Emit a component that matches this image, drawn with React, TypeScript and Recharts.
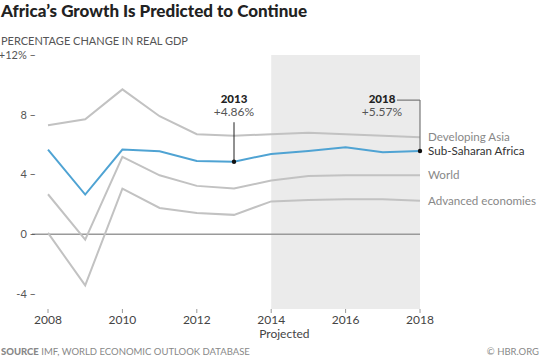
import React from "react";
import {
  LineChart,
  Line,
  XAxis,
  YAxis,
  ReferenceArea,
  ReferenceLine,
  ReferenceDot,
} from "recharts";

const years = [2008, 2009, 2010, 2011, 2012, 2013, 2014, 2015, 2016, 2017, 2018];
const developingAsia = [7.3, 7.7, 9.7, 7.9, 6.7, 6.6, 6.7, 6.8, 6.7, 6.6, 6.5];
const subSaharanAfrica = [5.67, 2.66, 5.67, 5.56, 4.91, 4.86, 5.38, 5.58, 5.83, 5.49, 5.57];
const world = [2.68, -0.36, 5.18, 3.95, 3.24, 3.06, 3.6, 3.9, 3.95, 3.95, 3.95];
const advanced = [0.09, -3.42, 3.06, 1.76, 1.43, 1.3, 2.2, 2.3, 2.35, 2.35, 2.25];
const yTicks = [-4, 0, 4, 8, 12];
const xTicks = [2008, 2010, 2012, 2014, 2016, 2018];

const GRAY = "#c2c2c2";
const BLUE = "#4fa3d3";
const FONT = "Lato, 'Open Sans', sans-serif";

const data = years.map((year, i) => ({
  year,
  asia: developingAsia[i],
  ssa: subSaharanAfrica[i],
  world: world[i],
  adv: advanced[i],
}));

const endLabel = (name: string, color: string) => (props: any) => {
  const { x, y, index } = props;
  if (index !== years.length - 1) return null;
  return (
    <text x={x + 8} y={y} dy="0.35em" fontSize={11.6} fill={color} fontFamily={FONT}>
      {name}
    </text>
  );
};

const YTick = (props: any) => {
  const { x, y, payload } = props;
  const label = payload.value === 12 ? "+12%" : String(payload.value);
  return (
    <text x={x + 4} y={y} dy="0.35em" textAnchor="end" fontSize={11} fill="#555" fontFamily={FONT}>
      {label} –
    </text>
  );
};

const XTick = (props: any) => {
  const { x, y, payload } = props;
  return (
    <g>
      <text x={x} y={y} dy="0.71em" textAnchor="middle" fontSize={12} fill="#444" fontFamily={FONT}>
        {payload.value}
      </text>
      {payload.value === 2014 && (
        <text x={x - 12} y={y + 14} dy="0.71em" textAnchor="start" fontSize={12} fill="#444" fontFamily={FONT}>
          Projected
        </text>
      )}
    </g>
  );
};

const Callout = (label: string, value: string, dx: number) => (props: any) => {
  const { cx, cy } = props;
  return (
    <g fontFamily={FONT} textAnchor="middle">
      <text x={cx + dx} y={cy} fontSize={11.5} fontWeight={900} fill="#222">
        {label}
      </text>
      <text x={cx + dx} y={cy + 13} fontSize={12} fill="#555">
        {value}
      </text>
    </g>
  );
};

export default function App() {
  return (
    <div style={{ position: "absolute", left: 0, top: 0, width: 540, height: 362, background: "#fff" }}>
      <div
        style={{
          position: "absolute",
          left: 1,
          top: 0,
          fontFamily: FONT,
          fontWeight: 900,
          fontSize: 17,
          color: "#222",
          whiteSpace: "nowrap",
        }}
      >
        Africa’s Growth Is Predicted to Continue
      </div>
      <div
        style={{
          position: "absolute",
          left: 1,
          top: 34,
          fontFamily: FONT,
          fontSize: 11,
          color: "#555",
          whiteSpace: "nowrap",
        }}
      >
        PERCENTAGE CHANGE IN REAL GDP
      </div>
      <div style={{ position: "absolute", left: 0, top: 0 }}>
        <LineChart
          width={540}
          height={362}
          data={data}
          margin={{ top: 55, right: 120, left: 0, bottom: 23 }}
        >
          <ReferenceArea x1={2014} x2={2018} fill="#ebebeb" fillOpacity={1} stroke="none" />
          <ReferenceLine y={0} stroke="#9a9a9a" strokeWidth={1.5} />
          <XAxis
            dataKey="year"
            type="number"
            domain={[2008, 2018]}
            ticks={xTicks}
            padding={{ left: 16, right: 0 }}
            axisLine={false}
            tickLine={{ stroke: "#999" }}
            tickSize={4}
            height={30}
            tick={<XTick />}
            interval={0}
          />
          <YAxis
            type="number"
            domain={[-5, 12]}
            ticks={yTicks}
            width={32}
            axisLine={false}
            tickLine={false}
            tickSize={0}
            tickMargin={0}
            tick={<YTick />}
            interval={0}
          />
          <Line dataKey="adv" stroke={GRAY} strokeWidth={2} dot={false} isAnimationActive={false} label={endLabel("Advanced economies", "#888")} />
          <Line dataKey="world" stroke={GRAY} strokeWidth={2} dot={false} isAnimationActive={false} label={endLabel("World", "#888")} />
          <Line dataKey="asia" stroke={GRAY} strokeWidth={2} dot={false} isAnimationActive={false} label={endLabel("Developing Asia", "#888")} />
          <ReferenceLine segment={[{ x: 2013, y: 4.86 }, { x: 2013, y: 7.5 }]} stroke="#222" strokeWidth={1} />
          <ReferenceLine
            segment={[{ x: 2018, y: 5.57 }, { x: 2018, y: 8.98 }]}
            stroke="#777"
            strokeWidth={1.2}
            ifOverflow="visible"
          />
          <ReferenceLine
            segment={[{ x: 2017.38, y: 8.98 }, { x: 2018, y: 8.98 }]}
            stroke="#777"
            strokeWidth={1.2}
            ifOverflow="visible"
          />
          <Line dataKey="ssa" stroke={BLUE} strokeWidth={2} dot={false} isAnimationActive={false} label={endLabel("Sub-Saharan Africa", "#333")} />
          <ReferenceDot x={2013} y={4.86} r={2.2} fill="#111" stroke="none" />
          <ReferenceDot x={2018} y={5.57} r={2.2} fill="#111" stroke="none" ifOverflow="visible" />
          <ReferenceDot x={2013} y={8.8} r={0} shape={Callout("2013", "+4.86%", 0)} />
          <ReferenceDot x={2018} y={8.8} r={0} shape={Callout("2018", "+5.57%", -38)} ifOverflow="visible" />
        </LineChart>
      </div>
      <div
        style={{
          position: "absolute",
          left: 1,
          top: 346,
          fontFamily: FONT,
          fontSize: 9.5,
          color: "#888",
          whiteSpace: "nowrap",
        }}
      >
        <b style={{ fontWeight: 900 }}>SOURCE</b> IMF, WORLD ECONOMIC OUTLOOK DATABASE
      </div>
      <div
        style={{
          position: "absolute",
          right: 1,
          top: 346,
          fontFamily: FONT,
          fontSize: 9.5,
          color: "#888",
          whiteSpace: "nowrap",
        }}
      >
        © HBR.ORG
      </div>
    </div>
  );
}
